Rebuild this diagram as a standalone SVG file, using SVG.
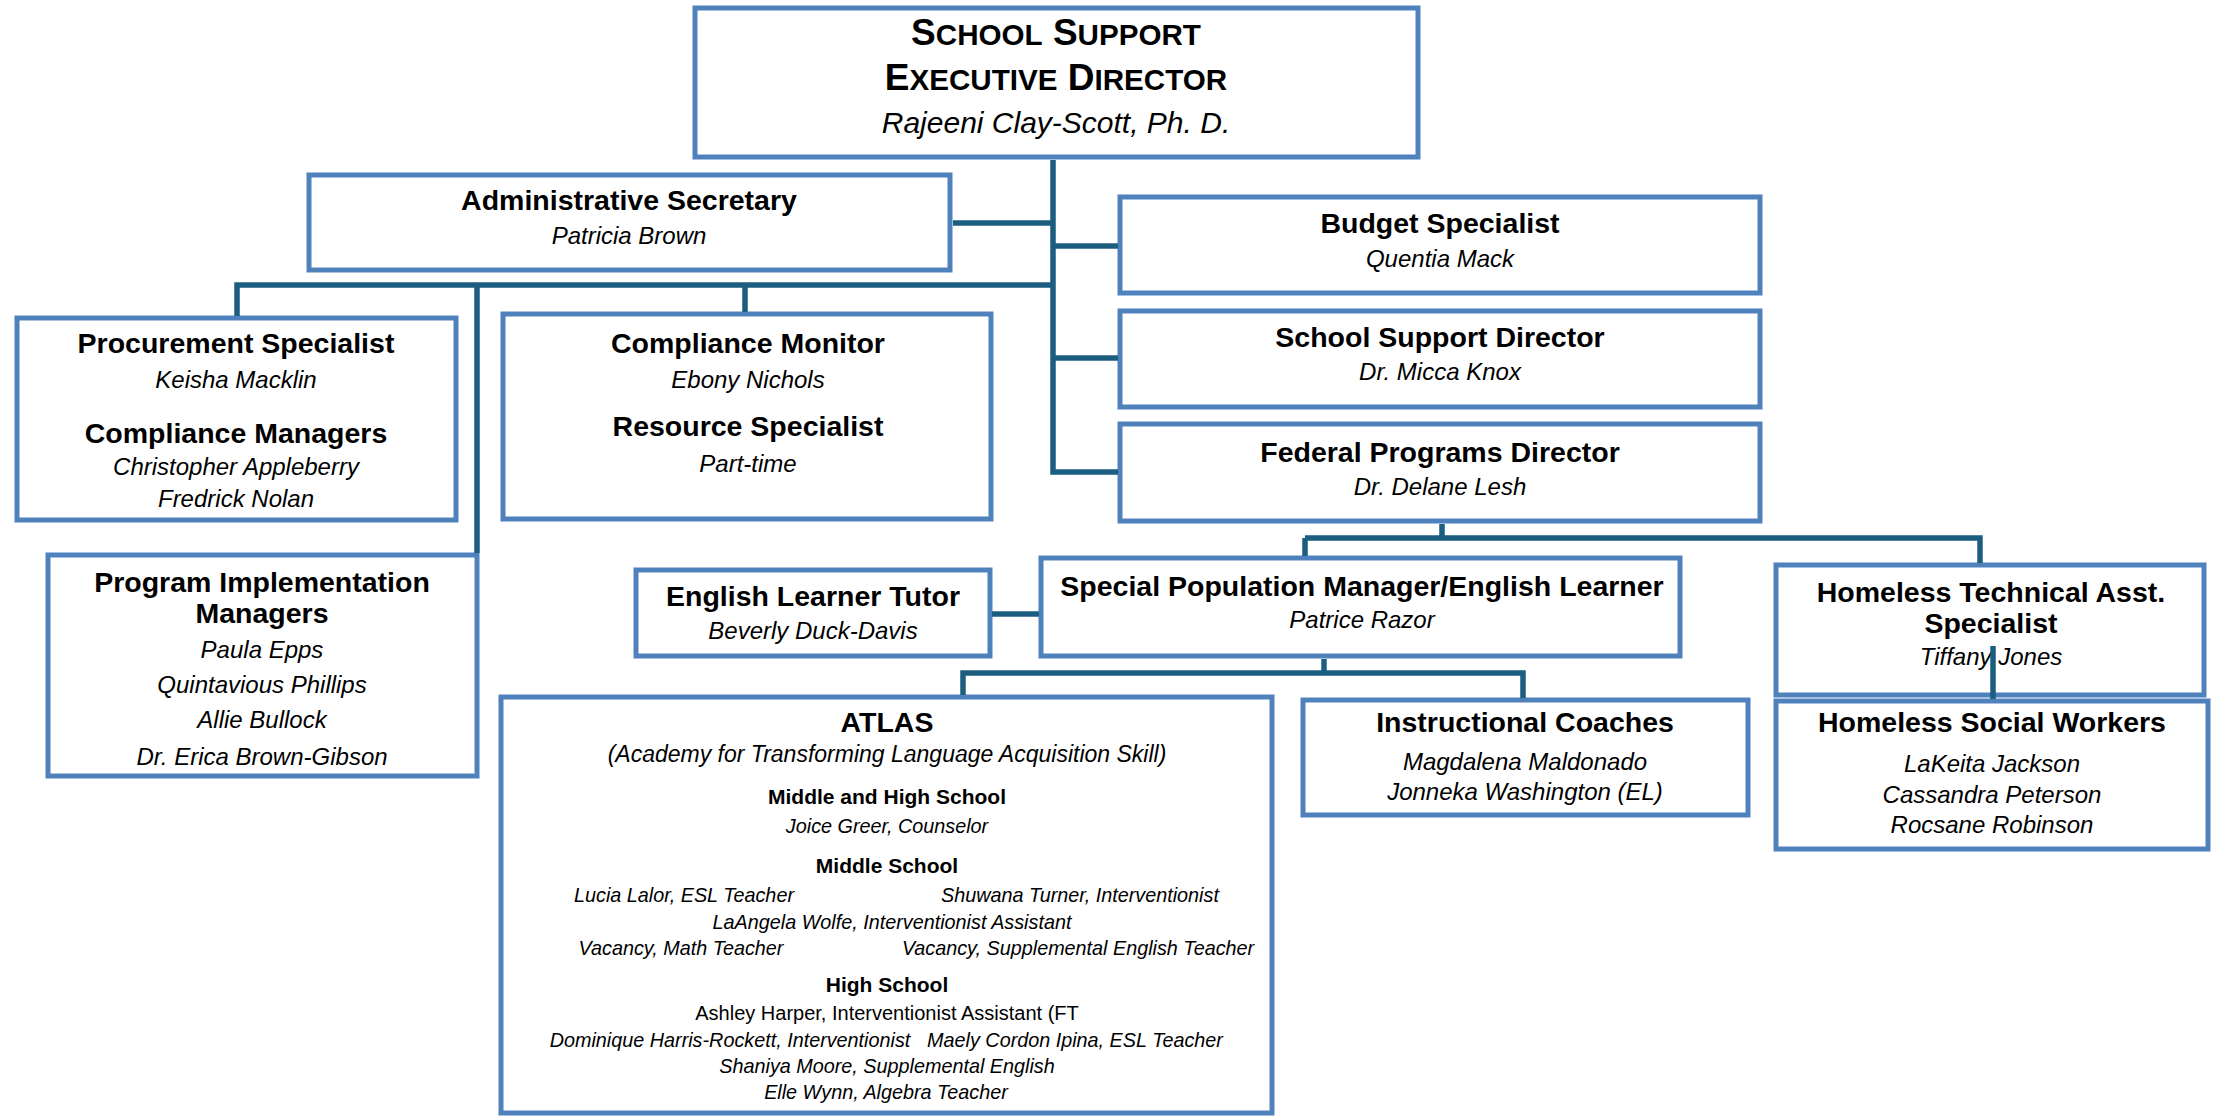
<svg xmlns="http://www.w3.org/2000/svg" width="2215" height="1116" viewBox="0 0 2215 1116">
<style>
text{font-family:"Liberation Sans",Arial,sans-serif;fill:#000;text-anchor:middle}
.box{fill:#fff;stroke:#4f81bd;stroke-width:5}
.t{font-weight:bold;font-size:28.5px}
.n{font-style:italic;font-size:24px}
.sh{font-weight:bold;font-size:21px}
.s{font-style:italic;font-size:19.8px}
.r{font-size:20px}
.big{font-weight:bold;font-size:37px}
.sc{font-size:29.6px}
.conn{fill:none;stroke:#1b5e80;stroke-width:5.5}
</style>
<rect width="2215" height="1116" fill="#fff"/>
<g id="exec">
<rect class="box" x="695" y="8" width="723" height="149"/>
<text class="big" x="1056" y="45">S<tspan class="sc">CHOOL</tspan> S<tspan class="sc">UPPORT</tspan></text>
<text class="big" x="1056" y="90">E<tspan class="sc">XECUTIVE</tspan> D<tspan class="sc">IRECTOR</tspan></text>
<text class="n" x="1056" y="133" style="font-size:30px">Rajeeni Clay-Scott, Ph. D.</text>
</g>
<g id="admin">
<rect class="box" x="309" y="175" width="641" height="95"/>
<text class="t" x="629" y="210">Administrative Secretary</text>
<text class="n" x="629" y="244">Patricia Brown</text>
</g>
<g id="budget">
<rect class="box" x="1120" y="197" width="640" height="96"/>
<text class="t" x="1440" y="233">Budget Specialist</text>
<text class="n" x="1440" y="267">Quentia Mack</text>
</g>
<g id="ssd">
<rect class="box" x="1120" y="311" width="640" height="96"/>
<text class="t" x="1440" y="347">School Support Director</text>
<text class="n" x="1440" y="380">Dr. Micca Knox</text>
</g>
<g id="fpd">
<rect class="box" x="1120" y="424" width="640" height="97"/>
<text class="t" x="1440" y="462">Federal Programs Director</text>
<text class="n" x="1440" y="495">Dr. Delane Lesh</text>
</g>
<g id="procurement">
<rect class="box" x="17" y="318" width="439" height="202"/>
<text class="t" x="236" y="353">Procurement Specialist</text>
<text class="n" x="236" y="388">Keisha Macklin</text>
<text class="t" x="236" y="443">Compliance Managers</text>
<text class="n" x="236" y="475">Christopher Appleberry</text>
<text class="n" x="236" y="507">Fredrick Nolan</text>
</g>
<g id="compliance">
<rect class="box" x="503" y="314" width="488" height="205"/>
<text class="t" x="748" y="353">Compliance Monitor</text>
<text class="n" x="748" y="388">Ebony Nichols</text>
<text class="t" x="748" y="436">Resource Specialist</text>
<text class="n" x="748" y="472">Part-time</text>
</g>
<g id="pim">
<rect class="box" x="48" y="555" width="429" height="221"/>
<text class="t" x="262" y="592">Program Implementation</text>
<text class="t" x="262" y="623">Managers</text>
<text class="n" x="262" y="658">Paula Epps</text>
<text class="n" x="262" y="693">Quintavious Phillips</text>
<text class="n" x="262" y="728">Allie Bullock</text>
<text class="n" x="262" y="765">Dr. Erica Brown-Gibson</text>
</g>
<g id="el-tutor">
<rect class="box" x="636" y="570" width="354" height="86"/>
<text class="t" x="813" y="606">English Learner Tutor</text>
<text class="n" x="813" y="639">Beverly Duck-Davis</text>
</g>
<g id="spm">
<rect class="box" x="1041" y="558" width="639" height="98"/>
<text class="t" x="1362" y="596">Special Population Manager/English Learner</text>
<text class="n" x="1362" y="628">Patrice Razor</text>
</g>
<g id="htas">
<rect class="box" x="1776" y="565" width="428" height="130"/>
<text class="t" x="1991" y="602">Homeless Technical Asst.</text>
<text class="t" x="1991" y="633">Specialist</text>
<text class="n" x="1991" y="665">Tiffany Jones</text>
</g>
<g id="hsw">
<rect class="box" x="1776" y="701" width="432" height="148"/>
<text class="t" x="1992" y="732">Homeless Social Workers</text>
<text class="n" x="1992" y="772">LaKeita Jackson</text>
<text class="n" x="1992" y="803">Cassandra Peterson</text>
<text class="n" x="1992" y="833">Rocsane Robinson</text>
</g>
<g id="atlas">
<rect class="box" x="501" y="697" width="771" height="416"/>
<text class="t" x="887" y="732">ATLAS</text>
<text class="n" x="887" y="762" style="font-size:23px">(Academy for Transforming Language Acquisition Skill)</text>
<text class="sh" x="887" y="804">Middle and High School</text>
<text class="s" x="887" y="833">Joice Greer, Counselor</text>
<text class="sh" x="887" y="873">Middle School</text>
<text class="s" x="684" y="902">Lucia Lalor, ESL Teacher</text>
<text class="s" x="1080" y="902">Shuwana Turner, Interventionist</text>
<text class="s" x="892" y="929">LaAngela Wolfe, Interventionist Assistant</text>
<text class="s" x="681" y="955">Vacancy, Math Teacher</text>
<text class="s" x="1078" y="955">Vacancy, Supplemental English Teacher</text>
<text class="sh" x="887" y="992">High School</text>
<text class="r" x="887" y="1020">Ashley Harper, Interventionist Assistant (FT</text>
<text class="s" x="730" y="1047">Dominique Harris-Rockett, Interventionist</text>
<text class="s" x="1075" y="1047">Maely Cordon Ipina, ESL Teacher</text>
<text class="s" x="887" y="1073">Shaniya Moore, Supplemental English</text>
<text class="s" x="886" y="1099">Elle Wynn, Algebra Teacher</text>
</g>
<g id="coaches">
<rect class="box" x="1303" y="700" width="445" height="115"/>
<text class="t" x="1525" y="732">Instructional Coaches</text>
<text class="n" x="1525" y="770">Magdalena Maldonado</text>
<text class="n" x="1525" y="800">Jonneka Washington (EL)</text>
</g>
<g id="connectors" class="conn">
<path d="M1053 160V472H1118"/>
<path d="M953 223H1053"/>
<path d="M1053 246H1118"/>
<path d="M1053 358H1118"/>
<path d="M1053 285H237V316"/>
<path d="M477 285V553"/>
<path d="M745 285V312"/>
<path d="M1442 524V538"/>
<path d="M1305 538H1980V563"/>
<path d="M1305 538V556"/>
<path d="M992 614H1039"/>
<path d="M1324 659V673"/>
<path d="M963 695V673H1523V698"/>
<path d="M1993 646V699"/>
</g>
</svg>
